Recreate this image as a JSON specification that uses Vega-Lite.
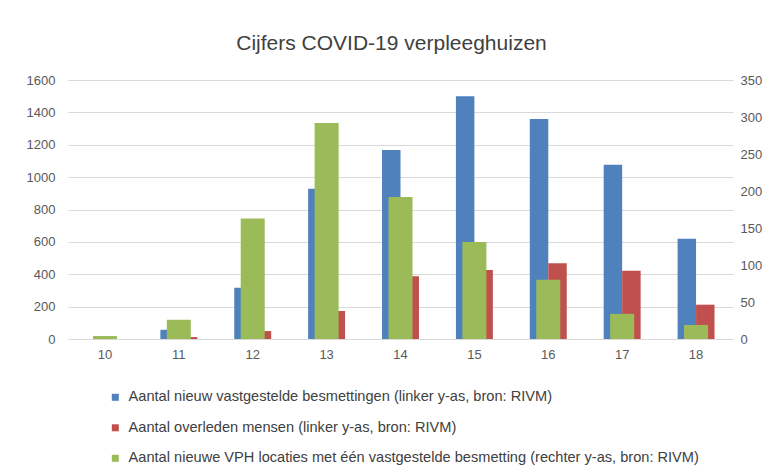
{
  "$schema": "https://vega.github.io/schema/vega-lite/v6.json",
  "width": 665,
  "height": 259,
  "autosize": {"type": "none"},
  "padding": {"left": 68, "top": 80, "right": 41, "bottom": 132},
  "background": "white",
  "config": {
    "font": "Liberation Sans",
    "view": {"stroke": null},
    "axis": {"labelColor": "#595959", "labelFontSize": 13, "ticks": false, "title": null}
  },
  "title": {
    "text": "Cijfers COVID-19 verpleeghuizen",
    "fontSize": 21,
    "fontWeight": "normal",
    "color": "#404040",
    "offset": 20,
    "dx": -9
  },
  "data": {
    "values": [
      {"week": 10, "serie": "Aantal nieuw vastgestelde besmettingen (linker y-as, bron: RIVM)", "as": "links", "waarde": 0},
      {"week": 11, "serie": "Aantal nieuw vastgestelde besmettingen (linker y-as, bron: RIVM)", "as": "links", "waarde": 57},
      {"week": 12, "serie": "Aantal nieuw vastgestelde besmettingen (linker y-as, bron: RIVM)", "as": "links", "waarde": 316},
      {"week": 13, "serie": "Aantal nieuw vastgestelde besmettingen (linker y-as, bron: RIVM)", "as": "links", "waarde": 928},
      {"week": 14, "serie": "Aantal nieuw vastgestelde besmettingen (linker y-as, bron: RIVM)", "as": "links", "waarde": 1167},
      {"week": 15, "serie": "Aantal nieuw vastgestelde besmettingen (linker y-as, bron: RIVM)", "as": "links", "waarde": 1500},
      {"week": 16, "serie": "Aantal nieuw vastgestelde besmettingen (linker y-as, bron: RIVM)", "as": "links", "waarde": 1359},
      {"week": 17, "serie": "Aantal nieuw vastgestelde besmettingen (linker y-as, bron: RIVM)", "as": "links", "waarde": 1077},
      {"week": 18, "serie": "Aantal nieuw vastgestelde besmettingen (linker y-as, bron: RIVM)", "as": "links", "waarde": 620},
      {"week": 10, "serie": "Aantal overleden mensen (linker y-as, bron: RIVM)", "as": "links", "waarde": 0},
      {"week": 11, "serie": "Aantal overleden mensen (linker y-as, bron: RIVM)", "as": "links", "waarde": 12},
      {"week": 12, "serie": "Aantal overleden mensen (linker y-as, bron: RIVM)", "as": "links", "waarde": 49},
      {"week": 13, "serie": "Aantal overleden mensen (linker y-as, bron: RIVM)", "as": "links", "waarde": 173},
      {"week": 14, "serie": "Aantal overleden mensen (linker y-as, bron: RIVM)", "as": "links", "waarde": 387},
      {"week": 15, "serie": "Aantal overleden mensen (linker y-as, bron: RIVM)", "as": "links", "waarde": 426},
      {"week": 16, "serie": "Aantal overleden mensen (linker y-as, bron: RIVM)", "as": "links", "waarde": 468},
      {"week": 17, "serie": "Aantal overleden mensen (linker y-as, bron: RIVM)", "as": "links", "waarde": 422},
      {"week": 18, "serie": "Aantal overleden mensen (linker y-as, bron: RIVM)", "as": "links", "waarde": 212},
      {"week": 10, "serie": "Aantal nieuwe VPH locaties met één vastgestelde besmetting (rechter y-as, bron: RIVM)", "as": "rechts", "waarde": 4},
      {"week": 11, "serie": "Aantal nieuwe VPH locaties met één vastgestelde besmetting (rechter y-as, bron: RIVM)", "as": "rechts", "waarde": 26},
      {"week": 12, "serie": "Aantal nieuwe VPH locaties met één vastgestelde besmetting (rechter y-as, bron: RIVM)", "as": "rechts", "waarde": 163},
      {"week": 13, "serie": "Aantal nieuwe VPH locaties met één vastgestelde besmetting (rechter y-as, bron: RIVM)", "as": "rechts", "waarde": 292},
      {"week": 14, "serie": "Aantal nieuwe VPH locaties met één vastgestelde besmetting (rechter y-as, bron: RIVM)", "as": "rechts", "waarde": 192},
      {"week": 15, "serie": "Aantal nieuwe VPH locaties met één vastgestelde besmetting (rechter y-as, bron: RIVM)", "as": "rechts", "waarde": 131},
      {"week": 16, "serie": "Aantal nieuwe VPH locaties met één vastgestelde besmetting (rechter y-as, bron: RIVM)", "as": "rechts", "waarde": 80},
      {"week": 17, "serie": "Aantal nieuwe VPH locaties met één vastgestelde besmetting (rechter y-as, bron: RIVM)", "as": "rechts", "waarde": 34},
      {"week": 18, "serie": "Aantal nieuwe VPH locaties met één vastgestelde besmetting (rechter y-as, bron: RIVM)", "as": "rechts", "waarde": 19}
    ]
  },
  "encoding": {
    "x": {
      "field": "week",
      "type": "ordinal",
      "scale": {"paddingInner": 0.5, "paddingOuter": 0.25},
      "axis": {"labelAngle": 0, "domainColor": "#d9d9d9", "labelPadding": 9}
    },
    "color": {
      "field": "serie",
      "type": "nominal",
      "scale": {
        "domain": [
          "Aantal nieuw vastgestelde besmettingen (linker y-as, bron: RIVM)",
          "Aantal overleden mensen (linker y-as, bron: RIVM)",
          "Aantal nieuwe VPH locaties met één vastgestelde besmetting (rechter y-as, bron: RIVM)"
        ],
        "range": ["#4f81bd", "#c0504d", "#9bbb59"]
      },
      "legend": {
        "orient": "none",
        "legendX": 40,
        "legendY": 310,
        "direction": "vertical",
        "title": null,
        "symbolType": "square",
        "symbolSize": 49,
        "symbolStrokeWidth": 0,
        "labelFontSize": 14.6,
        "labelColor": "#404040",
        "labelLimit": 700,
        "rowPadding": 15.5,
        "labelOffset": 6
      }
    }
  },
  "layer": [
    {
      "transform": [{"filter": "datum.as == 'links'"}],
      "mark": {"type": "bar"},
      "encoding": {
        "xOffset": {
          "field": "serie",
          "type": "nominal",
          "scale": {
            "domain": [
              "Aantal nieuw vastgestelde besmettingen (linker y-as, bron: RIVM)",
              "Aantal overleden mensen (linker y-as, bron: RIVM)"
            ],
            "paddingInner": 0,
            "paddingOuter": 0
          }
        },
        "y": {
          "field": "waarde",
          "type": "quantitative",
          "scale": {"domain": [0, 1600]},
          "axis": {
            "values": [0, 200, 400, 600, 800, 1000, 1200, 1400, 1600],
            "format": "d",
            "grid": true,
            "gridColor": "#d9d9d9",
            "domain": false,
            "labelPadding": 13
          }
        }
      }
    },
    {
      "transform": [{"filter": "datum.as == 'rechts'"}],
      "mark": {"type": "bar", "width": {"band": 0.65}},
      "encoding": {
        "y": {
          "field": "waarde",
          "type": "quantitative",
          "scale": {"domain": [0, 350]},
          "axis": {
            "orient": "right",
            "values": [0, 50, 100, 150, 200, 250, 300, 350],
            "format": "d",
            "grid": false,
            "domain": false,
            "labelPadding": 7
          }
        }
      }
    }
  ],
  "resolve": {"scale": {"y": "independent"}}
}
